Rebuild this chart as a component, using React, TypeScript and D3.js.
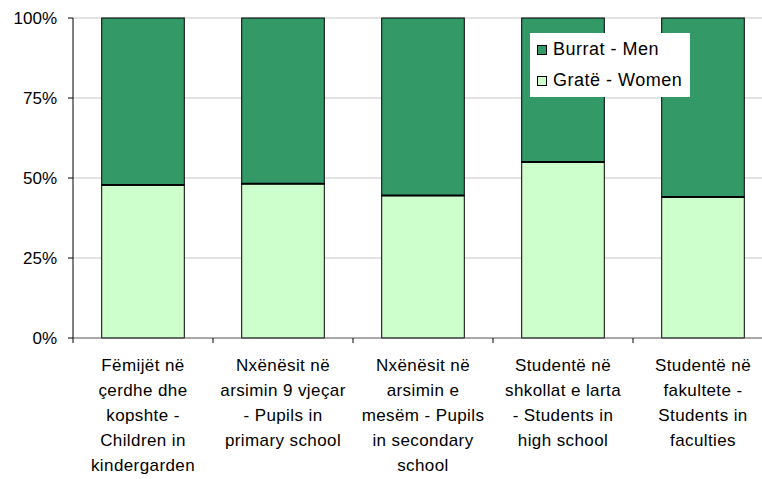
import React from "react";
import * as d3 from "d3";

const categories: string[][] = [
  ["Fëmijët në", "çerdhe dhe", "kopshte -", "Children in", "kindergarden"],
  ["Nxënësit në", "arsimin 9 vjeçar", "- Pupils in", "primary school"],
  ["Nxënësit në", "arsimin e", "mesëm - Pupils", "in secondary", "school"],
  ["Studentë në", "shkollat e larta", "- Students in", "high school"],
  ["Studentë në", "fakultete -", "Students in", "faculties"],
];
const women = [47.8, 48.2, 44.5, 55.0, 44.1];
const yTicks = [0, 25, 50, 75, 100];
const seriesNames = ["Burrat - Men", "Gratë - Women"];
const colors = ["#339966", "#CCFFCC"];

export default function App() {
  const W = 762, H = 479;
  const x0 = 73, x1 = 773, yTop = 18, yBot = 338;
  const x = d3.scaleBand<number>().domain(d3.range(categories.length)).range([x0, x1]).paddingInner(0.41).paddingOuter(0.205);
  const y = d3.scaleLinear().domain([0, 100]).range([yBot, yTop]);
  const font = "'Liberation Sans', Arial, sans-serif";
  const step = (x1 - x0) / categories.length;
  return (
    <svg width={W} height={H} style={{ position: "absolute", left: 0, top: 0, background: "#fff" }} fontFamily={font}>
      {yTicks.filter((t) => t > 0).map((t) => (
        <line key={t} x1={x0} x2={x1} y1={y(t)} y2={y(t)} stroke="#c8c8c8" strokeWidth={1} />
      ))}
      {categories.map((c, i) => {
        const bx = x(i)!;
        const bw = x.bandwidth();
        return (
          <g key={i}>
            <rect x={bx} y={y(100)} width={bw} height={y(women[i]) - y(100)} fill={colors[0]} stroke="#000" strokeWidth={1} />
            <rect x={bx} y={y(women[i])} width={bw} height={y(0) - y(women[i])} fill={colors[1]} stroke="#000" strokeWidth={1} />
            <line x1={bx} x2={bx + bw} y1={y(women[i])} y2={y(women[i])} stroke="#000" strokeWidth={2} />
          </g>
        );
      })}
      <line x1={x0} x2={x1} y1={yBot} y2={yBot} stroke="#555" strokeWidth={1} />
      <line x1={x0} x2={x0} y1={yTop} y2={yBot} stroke="#000" strokeWidth={1} />
      {yTicks.map((t) => (
        <g key={t}>
          <line x1={x0 - 5} x2={x0} y1={y(t)} y2={y(t)} stroke="#000" />
          <text x={57} y={y(t)} dy="0.35em" textAnchor="end" fontSize={17} fill="#000">{t}%</text>
        </g>
      ))}
      {categories.map((_, i) => (
        <line key={"t" + i} x1={x0 + step * i} x2={x0 + step * i} y1={yBot} y2={yBot + 5} stroke="#000" />
      ))}
      {categories.map((c, i) => (
        <text key={"c" + i} textAnchor="middle" fontSize={17} letterSpacing={0.4} fill="#000">
          {c.map((line, j) => (
            <tspan key={j} x={x(i)! + x.bandwidth() / 2} y={371 + j * 25}>{line}</tspan>
          ))}
        </text>
      ))}
      <rect x={530} y={33} width={160} height={64} fill="#fff" />
      {seriesNames.map((s, i) => (
        <g key={s}>
          <rect x={537.5} y={45.5 + i * 31} width={9} height={9} fill={colors[i]} stroke="#000" strokeWidth={1} />
          <text x={553} y={55 + i * 31} fontSize={18} letterSpacing={0.5} fill="#000">{s}</text>
        </g>
      ))}
    </svg>
  );
}
